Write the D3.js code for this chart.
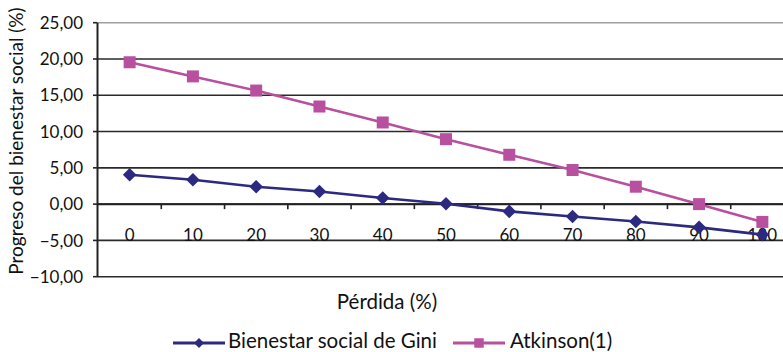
<!DOCTYPE html>
<html>
<head>
<meta charset="utf-8">
<script src="https://cdn.jsdelivr.net/npm/d3@7"></script>
<style>
  body { margin: 0; background: #fff; overflow: hidden; }
  text { font-family: Lato, "Open Sans", sans-serif; fill: #111; }
</style>
</head>
<body>
<div id="chart"></div>
<script>
// Chart size
const width = 783;
const height = 352;

// Data
const categories = ["0", "10", "20", "30", "40", "50", "60", "70", "80", "90", "180"];
const giniValues = [4.05, 3.35, 2.4, 1.75, 0.85, 0.05, -1.0, -1.7, -2.4, -3.2, -4.2];
const atkinsonValues = [19.55, 17.6, 15.65, 13.45, 11.25, 8.95, 6.8, 4.7, 2.4, 0.0, -2.45];
const yTicks = [-10, -5, 0, 5, 10, 15, 20, 25];
const seriesNames = ["Bienestar social de Gini", "Atkinson(1)"];

const svg = d3.select("#chart")
    .append("svg")
    .attr("width", width)
    .attr("height", height);

// Scales
const x = d3.scaleBand()
    .domain(categories)
    .range([98, 794])
    .padding(0);

const y = d3.scaleLinear()
    .domain([-10, 25])
    .range([276.7, 22.7]);

const fmt = d => d3.format(".2f")(d).replace(".", ",");

// Horizontal gridlines
svg.selectAll(".grid")
    .data(yTicks)
    .join("line")
    .attr("class", "grid")
    .attr("x1", 97)
    .attr("x2", width)
    .attr("y1", d => y(d))
    .attr("y2", d => y(d))
    .attr("stroke", d => d === 25 ? "#a0a0a0" : "#2a2a2a")
    .attr("stroke-width", 1.6);

// Y axis line and tick marks
svg.append("line")
    .attr("x1", 97.5).attr("x2", 97.5)
    .attr("y1", y(25)).attr("y2", y(-10))
    .attr("stroke", "#222")
    .attr("stroke-width", 2);

svg.selectAll(".ytick")
    .data(yTicks)
    .join("line")
    .attr("class", "ytick")
    .attr("x1", 93).attr("x2", 97)
    .attr("y1", d => y(d)).attr("y2", d => y(d))
    .attr("stroke", "#222")
    .attr("stroke-width", 1.6);

svg.selectAll(".ylabel")
    .data(yTicks)
    .join("text")
    .attr("class", "ylabel")
    .attr("x", 83)
    .attr("y", d => y(d))
    .attr("dy", "0.36em")
    .attr("text-anchor", "end")
    .style("font-size", "17px")
    .text(d => fmt(d));

// X axis at zero with ticks at band edges
svg.append("line")
    .attr("x1", 97).attr("x2", width)
    .attr("y1", y(0)).attr("y2", y(0))
    .attr("stroke", "#222")
    .attr("stroke-width", 2);

svg.selectAll(".xtick")
    .data(categories.slice(1))
    .join("line")
    .attr("class", "xtick")
    .attr("x1", d => x(d)).attr("x2", d => x(d))
    .attr("y1", y(0)).attr("y2", y(0) + 5)
    .attr("stroke", "#222")
    .attr("stroke-width", 1.6);

svg.selectAll(".xlabel")
    .data(categories)
    .join("text")
    .attr("class", "xlabel")
    .attr("x", d => x(d) + x.bandwidth() / 2)
    .attr("y", 241)
    .attr("text-anchor", "middle")
    .style("font-size", "17px")
    .text(d => d);

// Axis titles
svg.append("text")
    .attr("transform", "translate(23,141) rotate(-90)")
    .attr("text-anchor", "middle")
    .style("font-size", "19px")
    .text("Progreso del bienestar social (%)");

svg.append("text")
    .attr("x", 387)
    .attr("y", 309)
    .attr("text-anchor", "middle")
    .style("font-size", "20.5px")
    .text("Pérdida (%)");

// Series
const colors = ["#2c2a80", "#b8509f"];
const line = d3.line()
    .x((d, i) => x(categories[i]) + x.bandwidth() / 2)
    .y(d => y(d));

const square = d3.symbol().type(d3.symbolSquare).size(144);
const diamond = d3.symbol().type(d3.symbolSquare).size(92);

// Atkinson first, Gini on top
svg.append("path")
    .datum(atkinsonValues)
    .attr("d", line)
    .attr("fill", "none")
    .attr("stroke", colors[1])
    .attr("stroke-width", 2.6);

svg.selectAll(".atk")
    .data(atkinsonValues)
    .join("path")
    .attr("class", "atk")
    .attr("transform", (d, i) => `translate(${x(categories[i]) + x.bandwidth() / 2},${y(d)})`)
    .attr("d", square)
    .attr("fill", colors[1]);

svg.append("path")
    .datum(giniValues)
    .attr("d", line)
    .attr("fill", "none")
    .attr("stroke", colors[0])
    .attr("stroke-width", 2.6);

svg.selectAll(".gini")
    .data(giniValues)
    .join("path")
    .attr("class", "gini")
    .attr("transform", (d, i) => `translate(${x(categories[i]) + x.bandwidth() / 2},${y(d)}) rotate(45)`)
    .attr("d", diamond)
    .attr("fill", colors[0]);

// Legend
const legend = [
    { name: seriesNames[0], color: colors[0], rot: 45, size: 50, x0: 173, tx: 55 },
    { name: seriesNames[1], color: colors[1], rot: 0, size: 90, x0: 453, tx: 57 }
];
const lg = svg.selectAll(".legend")
    .data(legend)
    .join("g")
    .attr("class", "legend")
    .attr("transform", d => `translate(${d.x0},343)`);

lg.append("line")
    .attr("x1", 0).attr("x2", 52)
    .attr("stroke", d => d.color)
    .attr("stroke-width", 3);

lg.append("path")
    .attr("transform", d => `translate(26,0) rotate(${d.rot})`)
    .attr("d", d => d3.symbol().type(d3.symbolSquare).size(d.size)())
    .attr("fill", d => d.color);

lg.append("text")
    .attr("x", d => d.tx)
    .attr("y", 5)
    .style("font-size", "20.5px")
    .text(d => d.name);
</script>
</body>
</html>
